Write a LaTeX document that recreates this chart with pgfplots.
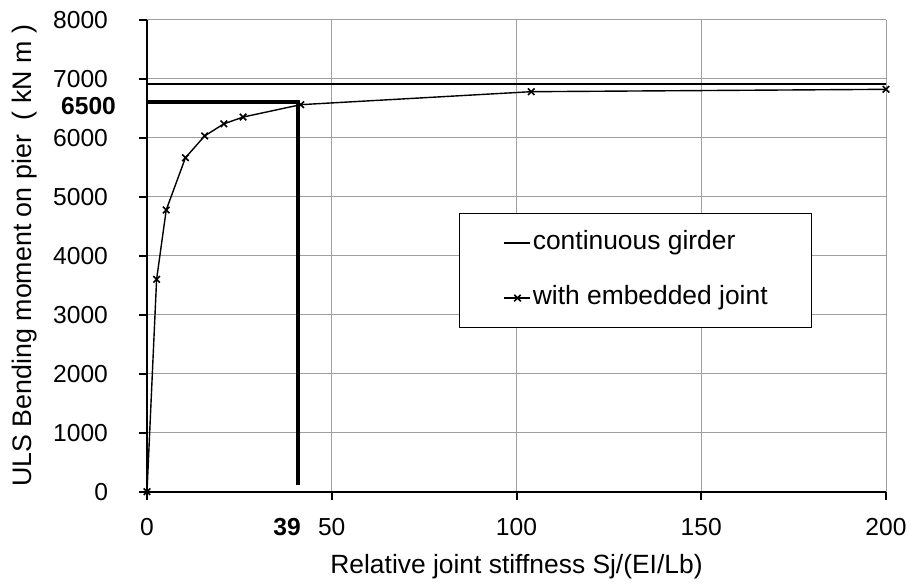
\documentclass[border=0pt]{standalone}
\usepackage{fontspec}
\setmainfont{Liberation Sans}
\usepackage{pgfplots}
\pgfplotsset{compat=1.18}

\begin{document}
\begin{tikzpicture}
  \begin{axis}[
      scale only axis,
      width=369.5pt,
      height=236pt,
      clip=false,
      xmin=0, xmax=200,
      ymin=0, ymax=8000,
      xtick={0,50,100,150,200},
      ytick={0,1000,...,8000},
      axis lines=left,
      axis line style={-, black, line width=1pt},
      tick align=outside,
      major tick length=4pt,
      tick style={black, line width=1pt},
      grid=major,
      grid style={gray!75, line width=0.5pt},
      /pgf/number format/assume math mode=true,
      /pgf/number format/1000 sep={},
      tick label style={font=\fontsize{12.3}{14}\selectfont},
      yticklabel style={xshift=-12pt},
      xticklabel style={yshift=-6pt},
      xlabel={Relative joint stiffness Sj/(EI/Lb)},
      ylabel={ULS Bending moment on pier\ \ ( kN m )},
      xlabel style={font=\fontsize{13.2}{15}\selectfont, yshift=-2pt},
      ylabel style={font=\fontsize{13.4}{15}\selectfont, yshift=1pt},
      legend style={at={(0.422,0.591)}, anchor=north west,
        draw=black, line width=0.8pt, inner xsep=22pt, inner ysep=8.5pt,
        row sep=15pt,
        nodes={inner sep=0pt, text height=9.5pt, text depth=3pt, anchor=west},
        font=\fontsize{13.2}{15}\selectfont},
      legend cell align=left,
      /tikz/every odd column/.append style={column sep=0.8pt},
      legend image code/.code={
        \draw[mark repeat=2, mark phase=2, #1] plot coordinates {(0pt,0pt) (6.5pt,0pt) (13pt,0pt)};},
    ]
    % continuous girder
    \addplot[black, line width=0.8pt, mark=none] coordinates {(0,6915) (200,6915)};
    \addlegendentry{continuous girder}
    % with embedded joint
    \addplot[black, line width=0.7pt, mark=x, mark size=2.3pt,
             mark options={line width=0.8pt}] coordinates {
      (0,0) (2.6,3600) (5.2,4775) (10.4,5660) (15.6,6030) (20.8,6235)
      (26,6350) (41.6,6560) (104,6780) (200,6820)};
    \addlegendentry{with embedded joint}
    % design point guide lines
    \addplot[black, line width=2pt, mark=none, forget plot] coordinates {
      (0,6600) (41,6600) (41,110)};
    \node[font=\fontsize{12.3}{14}\selectfont\bfseries, anchor=east,
          xshift=-12pt, yshift=-2pt] at (axis cs:0,6600) {6500};
    \node[font=\fontsize{12.3}{14}\selectfont\bfseries, anchor=north,
          yshift=-10pt] at (axis cs:37.9,0) {39};
  \end{axis}
  \pgfresetboundingbox
  \path[use as bounding box] (-73.5pt,-47.15pt) rectangle (383.5pt,245.85pt);
\end{tikzpicture}
\end{document}
